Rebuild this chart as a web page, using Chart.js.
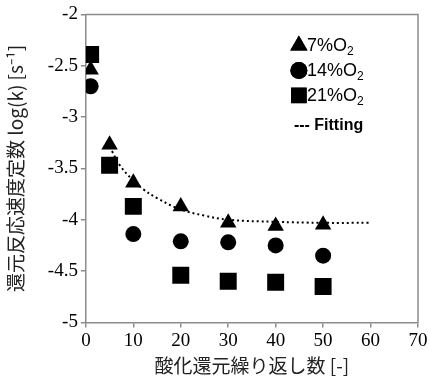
<!DOCTYPE html>
<html>
<head>
<meta charset="utf-8">
<script src="https://cdn.jsdelivr.net/npm/chart.js@4"></script>
<style>
  html, body { margin: 0; padding: 0; background: #fff; }
  #wrap { width: 430px; height: 377px; }
</style>
</head>
<body>
<div id="wrap"><canvas id="c"></canvas></div>
<script>
// cycles of oxidation-reduction
const cycles = [1, 5, 10, 20, 30, 40, 50];
const o2_7 = [-2.54, -3.27, -3.64, -3.87, -4.03, -4.06, -4.05];
const o2_14 = [-2.70, -3.47, -4.14, -4.21, -4.22, -4.25, -4.35];
const o2_21 = [-2.39, -3.47, -3.87, -4.54, -4.60, -4.61, -4.65];
const fitX = [5.5, 7, 10, 12, 15, 20, 25, 30, 40, 50, 60];
const fitY = [-3.33, -3.46, -3.62, -3.70, -3.79, -3.90, -3.96, -4.00, -4.02, -4.03, -4.03];
const xTicks = [0, 10, 20, 30, 40, 50, 60, 70];
const yTicks = [-5, -4.5, -4, -3.5, -3, -2.5, -2];
const legendItems = [
  { style: 'triangle', label: '7%O', sub: '2' },
  { style: 'circle', label: '14%O', sub: '2' },
  { style: 'rect', label: '21%O', sub: '2' },
];

const pts = (xs, ys) => xs.map((x, i) => ({ x: x, y: ys[i] }));

Chart.defaults.font.family = 'Liberation Serif';
Chart.defaults.font.size = 19;

const frameAndLegend = {
  id: 'frameAndLegend',
  afterDraw(chart) {
    const ctx = chart.ctx;
    const a = chart.chartArea;
    ctx.save();
    ctx.strokeStyle = '#8c8c8c';
    ctx.lineWidth = 1.5;
    ctx.beginPath();
    ctx.moveTo(a.left, a.top);
    ctx.lineTo(a.right, a.top);
    ctx.lineTo(a.right, a.bottom);
    ctx.stroke();

    // legend
    const lx = a.left + 213, ly = a.top + 31;
    ctx.fillStyle = '#000';
    legendItems.forEach((it, i) => {
      const y = ly + i * 25;
      const r = it.style === 'rect' ? 11 : it.style === 'triangle' ? 10 : 8.5;
      Chart.helpers.drawPoint(ctx, { pointStyle: it.style, radius: r, borderWidth: 0 }, lx, y);
      ctx.fill();
      ctx.font = '18px "Liberation Sans"';
      ctx.textBaseline = 'middle';
      ctx.textAlign = 'left';
      ctx.fillText(it.label, lx + 8, y + 1);
      const w = ctx.measureText(it.label).width;
      ctx.font = '12px "Liberation Sans"';
      ctx.fillText(it.sub, lx + 8 + w, y + 6);
    });
    ctx.font = 'bold 16px "Liberation Sans"';
    ctx.textBaseline = 'middle';
    ctx.fillText('--- Fitting', lx - 5, ly + 80);
    ctx.restore();
  }
};

new Chart(document.getElementById('c'), {
  type: 'scatter',
  data: {
    datasets: [
      {
        label: 'Fitting',
        type: 'line',
        data: pts(fitX, fitY),
        borderColor: '#000',
        borderWidth: 2,
        borderDash: [2, 3],
        pointRadius: 0,
        tension: 0.4,
        fill: false
      },
      {
        label: '7%O2',
        data: pts(cycles, o2_7),
        pointStyle: 'triangle',
        pointRadius: 9.5,
        backgroundColor: '#000',
        borderColor: '#000',
        borderWidth: 0
      },
      {
        label: '14%O2',
        data: pts(cycles, o2_14),
        pointStyle: 'circle',
        pointRadius: 8,
        backgroundColor: '#000',
        borderColor: '#000',
        borderWidth: 0
      },
      {
        label: '21%O2',
        data: pts(cycles, o2_21),
        pointStyle: 'rect',
        pointRadius: 12,
        backgroundColor: '#000',
        borderColor: '#000',
        borderWidth: 0
      }
    ]
  },
  options: {
    responsive: true,
    maintainAspectRatio: false,
    animation: false,
    layout: { padding: { left: 4, right: 0, top: 9, bottom: 0 } },
    plugins: {
      legend: { display: false },
      tooltip: { enabled: false }
    },
    scales: {
      x: {
        type: 'linear',
        min: 0,
        max: 70,
        afterBuildTicks: (s) => { s.ticks = xTicks.map(v => ({ value: v })); },
        grid: { drawOnChartArea: false, drawTicks: true, tickLength: 5, color: '#8c8c8c', lineWidth: 1.5 },
        border: { color: '#8c8c8c', width: 1.5 },
        ticks: { color: '#000', padding: 2 },
        title: {
          display: true,
          text: '酸化還元繰り返し数 [-]',
          color: '#222',
          font: { family: 'Noto Sans CJK JP', size: 19 },
          padding: { top: 0, bottom: 0 }
        }
      },
      y: {
        type: 'linear',
        min: -5,
        max: -2,
        afterBuildTicks: (s) => { s.ticks = yTicks.map(v => ({ value: v })); },
        grid: { drawOnChartArea: false, drawTicks: true, tickLength: 5, color: '#8c8c8c', lineWidth: 1.5 },
        border: { color: '#8c8c8c', width: 1.5 },
        ticks: {
          color: '#000',
          padding: 3,
          callback: (v) => String(v)
        },
        title: {
          display: true,
          text: '還元反応速度定数 log(k) [s⁻¹]',
          color: '#222',
          font: { family: 'Noto Sans CJK JP', size: 19 },
          padding: { top: 0, bottom: 18 }
        }
      }
    }
  },
  plugins: [frameAndLegend]
});
</script>
</body>
</html>
